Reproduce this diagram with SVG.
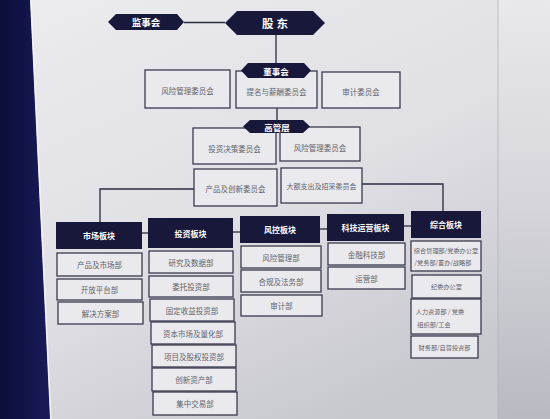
<svg xmlns="http://www.w3.org/2000/svg" width="550" height="419" viewBox="0 0 550 419">
<defs>
<linearGradient id="board" x1="0" y1="0" x2="0.6" y2="1">
<stop offset="0" stop-color="#ececef"/>
<stop offset="0.55" stop-color="#e0e0e5"/>
<stop offset="1" stop-color="#c8c8cf"/>
</linearGradient>
<linearGradient id="panel" x1="0" y1="0" x2="0" y2="1">
<stop offset="0" stop-color="#e9e9ec"/>
<stop offset="0.5" stop-color="#d4d4da"/>
<stop offset="1" stop-color="#b9b9c1"/>
</linearGradient>
<linearGradient id="navy" x1="0" y1="0" x2="1" y2="0">
<stop offset="0" stop-color="#0b0d3a"/>
<stop offset="1" stop-color="#191b58"/>
</linearGradient>
<style>
.box{fill:#eaeaee;stroke:#3a3a4e;stroke-width:1.3}
.hdr{fill:#17183a}
.bt{font-family:"Noto Sans CJK SC","Noto Sans",sans-serif;font-size:7.5px;fill:#62626a;text-anchor:middle;dominant-baseline:central}
.st{font-size:6.2px}
.ht{font-family:"Noto Sans CJK SC","Noto Sans",sans-serif;font-weight:bold;font-size:8px;fill:#ffffff;text-anchor:middle;dominant-baseline:central}
.ln{fill:none;stroke:#2a2a3e;stroke-width:1.3}
</style>
</defs>
<!-- background -->
<rect x="0" y="0" width="550" height="419" fill="url(#board)"/>
<rect x="498" y="0" width="52" height="419" fill="url(#panel)"/>
<line x1="498" y1="0" x2="498" y2="419" stroke="#b4b4bc" stroke-width="0.8"/>
<polygon points="0,0 30,0 50,419 0,419" fill="url(#navy)"/>
<line x1="31" y1="0" x2="51" y2="419" stroke="#f4f4f8" stroke-width="1.2"/>

<!-- connectors -->
<g id="connectors">
<path class="ln" d="M184,22.5 H225"/>
<path class="ln" d="M276,35 V63"/>
<path class="ln" d="M277,108 V121"/>
<path class="ln" d="M194,189 H100 V222"/>
<path class="ln" d="M362,184 H443 V211"/>
<path class="ln" d="M142,233 H148"/>
<path class="ln" d="M233,232 H240"/>
<path class="ln" d="M320,229 H327"/>
<path class="ln" d="M404,226 H411"/>
</g>

<!-- top -->
<g id="jianshihui">
<polygon class="hdr" points="108,22 116,14 177,14 184,22 177,30 116,30"/>
<text class="ht" x="146" y="22" style="font-size:9.5px">监事会</text>
</g>
<g id="gudong">
<polygon class="hdr" points="225,23 237,11 313,11 325,23 313,35 237,35"/>
<text class="ht" x="276.5" y="23" style="font-size:11.5px;letter-spacing:3px">股东</text>
</g>

<!-- board committees -->
<g id="c-risk1"><rect class="box" x="145" y="70" width="85" height="38"/><text class="bt" x="187.5" y="90">风险管理委员会</text></g>
<g id="c-nom"><rect class="box" x="236" y="71" width="81" height="37"/><text class="bt" x="276.5" y="91">提名与薪酬委员会</text></g>
<g id="c-audit"><rect class="box" x="322" y="72" width="78" height="36"/><text class="bt" x="361" y="91">审计委员会</text></g>
<g id="dongshihui">
<polygon class="hdr" points="241,70.5 248,63 304,63 311,70.5 304,78 248,78"/>
<text class="ht" x="276" y="70.5" style="font-size:8.5px">董事会</text>
</g>

<!-- management committees -->
<g id="c-invest"><rect class="box" x="193" y="128" width="83" height="36"/><text class="bt" x="234.5" y="148">投资决策委员会</text></g>
<g id="c-risk2"><rect class="box" x="280" y="127" width="80" height="34"/><text class="bt" x="320" y="147">风险管理委员会</text></g>
<g id="c-prod"><rect class="box" x="194" y="169" width="83" height="37"/><text class="bt" x="235.5" y="188">产品及创新委员会</text></g>
<g id="c-exp"><rect class="box" x="281" y="168" width="81" height="35"/><text class="bt" x="321.5" y="186" style="font-size:7px">大额支出及招采委员会</text></g>
<g id="gaoguanceng">
<polygon class="hdr" points="243,126.5 250,120 303,120 310,126.5 303,133 250,133"/>
<text class="ht" x="277" y="126.5" style="font-size:8.5px">高管层</text>
</g>

<!-- 市场板块 -->
<g id="h-market"><rect class="hdr" x="56" y="222" width="86" height="27"/><text class="ht" x="99" y="235.5">市场板块</text></g>
<g id="m1"><rect class="box" x="57" y="253" width="85" height="23"/><text class="bt" x="99.5" y="264.5">产品及市场部</text></g>
<g id="m2"><rect class="box" x="57" y="279" width="85" height="21"/><text class="bt" x="99.5" y="289.5">开放平台部</text></g>
<g id="m3"><rect class="box" x="58" y="302" width="85" height="22"/><text class="bt" x="100.5" y="313">解决方案部</text></g>

<!-- 投资板块 -->
<g id="h-invest"><rect class="hdr" x="148" y="218" width="85" height="30"/><text class="ht" x="190.5" y="233">投资板块</text></g>
<g id="i1"><rect class="box" x="149" y="251" width="84" height="22"/><text class="bt" x="191" y="262">研究及数据部</text></g>
<g id="i2"><rect class="box" x="149" y="276" width="84" height="21"/><text class="bt" x="191" y="286.5">委托投资部</text></g>
<g id="i3"><rect class="box" x="150" y="299" width="84" height="22"/><text class="bt" x="192" y="310">固定收益投资部</text></g>
<g id="i4"><rect class="box" x="151" y="322" width="84" height="22"/><text class="bt" x="193" y="333">资本市场及量化部</text></g>
<g id="i5"><rect class="box" x="152" y="345" width="84" height="22"/><text class="bt" x="194" y="356">项目及股权投资部</text></g>
<g id="i6"><rect class="box" x="152" y="368" width="84" height="23"/><text class="bt" x="194" y="379.5">创新资产部</text></g>
<g id="i7"><rect class="box" x="153" y="392" width="84" height="23"/><text class="bt" x="195" y="403.5">集中交易部</text></g>

<!-- 风控板块 -->
<g id="h-risk"><rect class="hdr" x="240" y="216" width="80" height="27"/><text class="ht" x="280" y="229.5">风控板块</text></g>
<g id="r1"><rect class="box" x="241" y="246" width="80" height="22"/><text class="bt" x="281" y="257">风险管理部</text></g>
<g id="r2"><rect class="box" x="241" y="270" width="80" height="22"/><text class="bt" x="281" y="281">合规及法务部</text></g>
<g id="r3"><rect class="box" x="241" y="295" width="81" height="21"/><text class="bt" x="281.5" y="305.5">审计部</text></g>

<!-- 科技运营板块 -->
<g id="h-tech"><rect class="hdr" x="327" y="214" width="77" height="27"/><text class="ht" x="365.5" y="227.5">科技运营板块</text></g>
<g id="t1"><rect class="box" x="328" y="243" width="77" height="22"/><text class="bt" x="366.5" y="254">金融科技部</text></g>
<g id="t2"><rect class="box" x="328" y="267" width="77" height="22"/><text class="bt" x="366.5" y="278">运营部</text></g>

<!-- 综合板块 -->
<g id="h-gen"><rect class="hdr" x="411" y="211" width="70" height="27"/><text class="ht" x="446" y="224.5">综合板块</text></g>
<g id="g1"><rect class="box" x="411" y="241" width="70" height="30"/><text class="bt st" x="446" y="250">综合管理部/党委办公室</text><text class="bt st" x="443" y="262">/党务部/董办/战略部</text></g>
<g id="g2"><rect class="box" x="412" y="275" width="69" height="23"/><text class="bt st" x="446.5" y="286.5">纪委办公室</text></g>
<g id="g3"><rect class="box" x="411" y="299" width="70" height="35"/><text class="bt st" x="440" y="311">人力资源部 / 党委</text><text class="bt st" x="434" y="324">组织部/工会</text></g>
<g id="g4"><rect class="box" x="411" y="336" width="67" height="22"/><text class="bt st" x="444.5" y="347">财务部/自营投资部</text></g>
</svg>
